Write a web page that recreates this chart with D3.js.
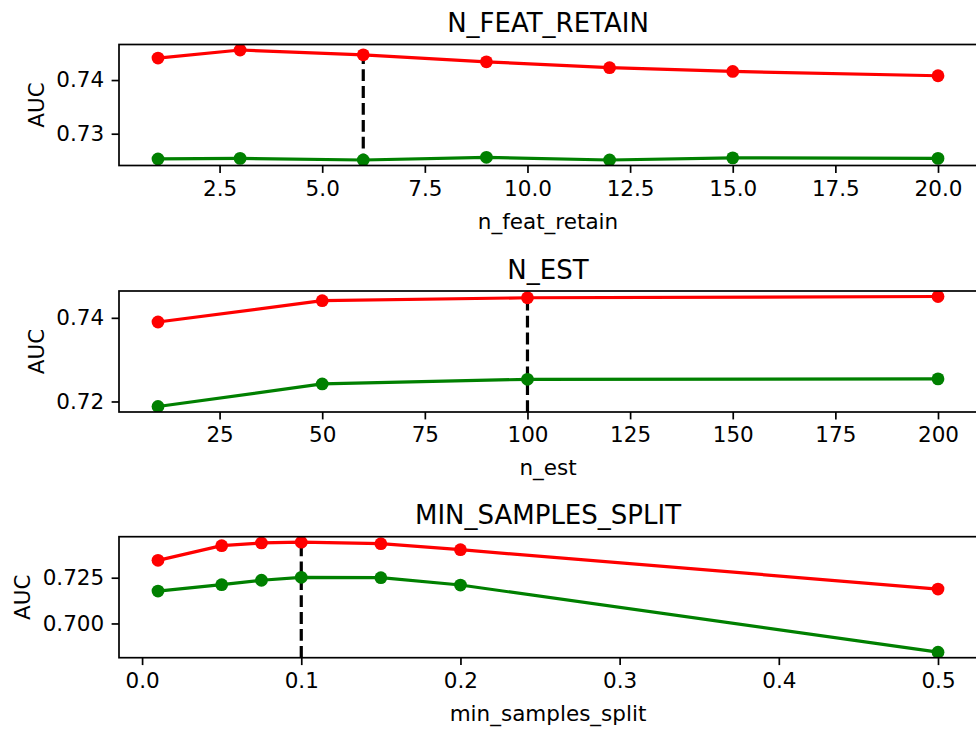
<!DOCTYPE html>
<html>
<head>
<meta charset="utf-8">
<script src="https://cdn.jsdelivr.net/npm/d3@7"></script>
<style>
body { margin:0; background:#fff; }
text { font-family: "DejaVu Sans", sans-serif; fill:#000; }
</style>
</head>
<body>
<svg id="graph"></svg>
<script>
//data for each panel
var featX = [1, 3, 6, 9, 12, 15, 20]
var featTrain = [0.7441, 0.7456, 0.7447, 0.7434, 0.7423, 0.7416, 0.7408]
var featTest = [0.7253, 0.7254, 0.7251, 0.7256, 0.7251, 0.7255, 0.7254]
var featXTicks = [2.5, 5, 7.5, 10, 12.5, 15, 17.5, 20]
var featYTicks = [0.73, 0.74]

var estX = [10, 50, 100, 200]
var estTrain = [0.7390, 0.7441, 0.7448, 0.7451]
var estTest = [0.7188, 0.7242, 0.7253, 0.7254]
var estXTicks = [25, 50, 75, 100, 125, 150, 175, 200]
var estYTicks = [0.72, 0.74]

var splitX = [0.01, 0.05, 0.075, 0.1, 0.15, 0.2, 0.5]
var splitTrain = [0.7345, 0.7425, 0.7440, 0.7444, 0.7436, 0.7403, 0.7188]
var splitTest = [0.7177, 0.7212, 0.7236, 0.7252, 0.7250, 0.7210, 0.6843]
var splitXTicks = [0.0, 0.1, 0.2, 0.3, 0.4, 0.5]
var splitYTicks = [0.700, 0.725]

var panels = [
	{title:'N_FEAT_RETAIN', xlabel:'n_feat_retain', x:featX, train:featTrain, test:featTest, best:6,
	 xticks:featXTicks, yticks:featYTicks, xfmt:'.1f', yfmt:'.2f', top:44.5},
	{title:'N_EST', xlabel:'n_est', x:estX, train:estTrain, test:estTest, best:100,
	 xticks:estXTicks, yticks:estYTicks, xfmt:'d', yfmt:'.2f', top:291},
	{title:'MIN_SAMPLES_SPLIT', xlabel:'min_samples_split', x:splitX, train:splitTrain, test:splitTest, best:0.1,
	 xticks:splitXTicks, yticks:splitYTicks, xfmt:'.1f', yfmt:'.3f', top:536.7}
]

var svg = d3.select('#graph')
	.attr('width', 976)
	.attr('height', 734)

var left = 119, right = 977, ph = 121
var lw = 3.2, spine = 1.7, tickLen = 7.4
var fs = 21.5, titleFs = 26

//matplotlib style 5% margins
function padded(vals) {
	var ext = d3.extent(vals), m = (ext[1] - ext[0]) * 0.05
	return [ext[0] - m, ext[1] + m]
}

panels.forEach(function(p, i) {
	var g = svg.append('g').attr('transform', 'translate(0,' + p.top + ')')

	var x = d3.scaleLinear().domain(padded(p.x)).range([left, right])
	var y = d3.scaleLinear().domain(padded(p.train.concat(p.test))).range([ph, 0])

	g.append('clipPath').attr('id', 'clip' + i)
		.append('rect').attr('x', left).attr('y', 0).attr('width', right - left).attr('height', ph)

	//axes
	g.append('g')
		.attr('transform', 'translate(0,' + ph + ')')
		.call(d3.axisBottom(x).tickValues(p.xticks).tickFormat(d3.format(p.xfmt))
			.tickSize(tickLen).tickPadding(7.4).tickSizeOuter(0))
	var ya = g.append('g')
		.attr('transform', 'translate(' + left + ',0)')
		.call(d3.axisLeft(y).tickValues(p.yticks).tickFormat(d3.format(p.yfmt))
			.tickSize(tickLen).tickPadding(7.4).tickSizeOuter(0))
	g.selectAll('.domain').remove()
	g.selectAll('.tick line').attr('stroke', '#000').attr('stroke-width', spine)
	g.selectAll('.tick text').attr('font-size', fs).attr('font-family', '"DejaVu Sans", sans-serif')

	var plot = g.append('g').attr('clip-path', 'url(#clip' + i + ')')

	//best value marker line
	var bi = p.x.indexOf(p.best)
	plot.append('line')
		.attr('x1', x(p.best)).attr('x2', x(p.best))
		.attr('y1', ph).attr('y2', y(p.train[bi]))
		.attr('stroke', '#000').attr('stroke-width', lw)
		.attr('stroke-dasharray', '11.8,5.1')

	var series = [{vals:p.train, color:'#ff0000'}, {vals:p.test, color:'#008000'}]
	series.forEach(function(s) {
		var pts = p.x.map(function(d, j) { return [d, s.vals[j]] })
		plot.append('path')
			.datum(pts)
			.attr('fill', 'none')
			.attr('stroke', s.color)
			.attr('stroke-width', lw)
			.attr('stroke-linejoin', 'round')
			.attr('d', d3.line().x(function(d) { return x(d[0]) }).y(function(d) { return y(d[1]) }))
		plot.selectAll(null)
			.data(pts)
			.enter()
			.append('circle')
			.attr('cx', function(d) { return x(d[0]) })
			.attr('cy', function(d) { return y(d[1]) })
			.attr('r', 6.4)
			.attr('fill', s.color)
	})

	//frame
	g.append('rect')
		.attr('x', left).attr('y', 0).attr('width', right - left).attr('height', ph)
		.attr('fill', 'none').attr('stroke', '#000').attr('stroke-width', spine)

	//title and labels
	g.append('text')
		.attr('x', (left + right) / 2).attr('y', -12.5)
		.attr('text-anchor', 'middle').attr('font-size', titleFs)
		.text(p.title)

	g.append('text')
		.attr('x', (left + right) / 2).attr('y', ph + 63)
		.attr('text-anchor', 'middle').attr('font-size', fs)
		.text(p.xlabel)

	var minLeft = d3.min(ya.selectAll('.tick text').nodes(), function(n) { return n.getBBox().x }) + left
	g.append('text')
		.attr('transform', 'translate(' + (minLeft - 12.8) + ',' + (ph / 2) + ') rotate(-90)')
		.attr('text-anchor', 'middle').attr('font-size', fs)
		.text('AUC')
})
</script>
</body>
</html>
